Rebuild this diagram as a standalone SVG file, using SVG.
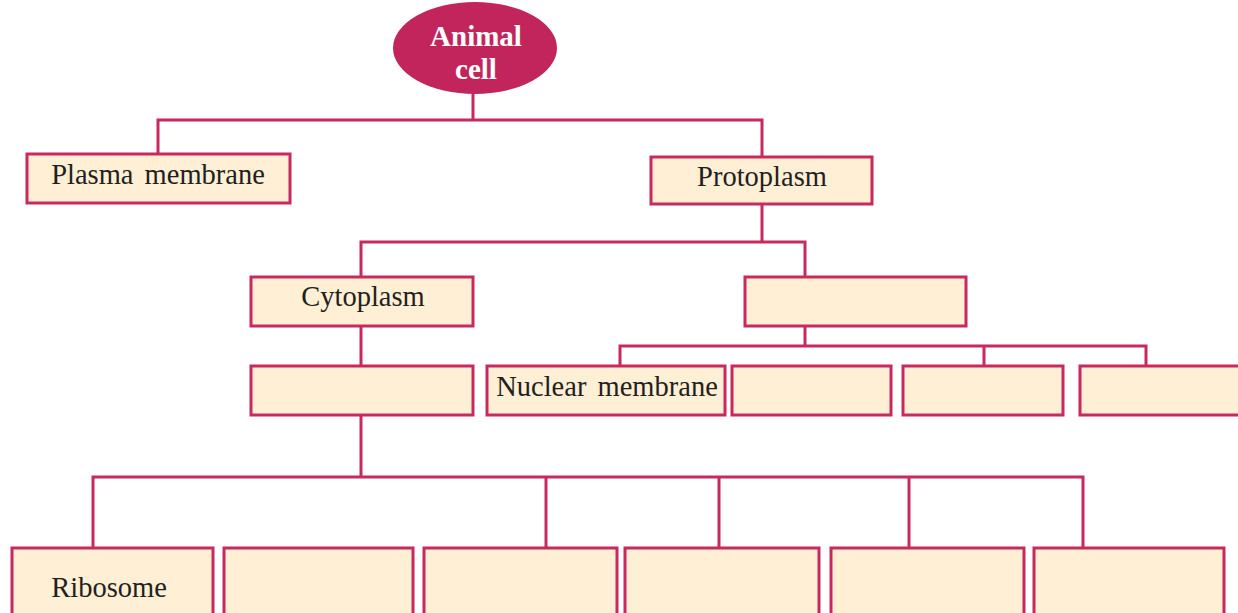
<svg xmlns="http://www.w3.org/2000/svg" width="1238" height="613" viewBox="0 0 1238 613">
<style>
.box{fill:#FEEFD5;stroke:#C8295F;stroke-width:3}
.ln{fill:none;stroke:#C8295F;stroke-width:3}
.t{font-family:"Liberation Serif","Times New Roman",serif;font-size:28.5px;fill:#231F20;text-anchor:middle;word-spacing:4px}
.tw{font-family:"Liberation Serif","Times New Roman",serif;font-size:29px;font-weight:bold;fill:#FFFFFF;text-anchor:middle}
</style>
<rect width="1238" height="613" fill="#FFFFFF"/>
<g id="connectors">
<path class="ln" d="M473 93V120M158 154V120H762V157"/>
<path class="ln" d="M762 204V242M361 277V242H805V277"/>
<path class="ln" d="M805 326V346M620 366V346H1146V366M984 346V366"/>
<path class="ln" d="M361 326V366M361 415V477M93 548V477H1083V548M546 477V548M719 477V548M909 477V548"/>
</g>
<g id="animal-cell">
<ellipse cx="475" cy="48" rx="82" ry="46" fill="#C2255C"/>
<text class="tw" x="476" y="46">Animal</text>
<text class="tw" x="476" y="79">cell</text>
</g>
<g id="plasma-membrane">
<rect class="box" x="27" y="154" width="263" height="49"/>
<text class="t" x="158" y="184">Plasma membrane</text>
</g>
<g id="protoplasm">
<rect class="box" x="651" y="157" width="221" height="47"/>
<text class="t" x="762" y="186">Protoplasm</text>
</g>
<g id="cytoplasm">
<rect class="box" x="251" y="277" width="222" height="49"/>
<text class="t" x="363" y="306">Cytoplasm</text>
</g>
<g id="nucleus">
<rect class="box" x="745" y="277" width="221" height="49"/>
</g>
<g id="cyto-sub">
<rect class="box" x="251" y="366" width="222" height="49"/>
</g>
<g id="nuclear-membrane">
<rect class="box" x="487" y="366" width="238" height="49"/>
<text class="t" x="607" y="396">Nuclear membrane</text>
</g>
<g id="nuc-2">
<rect class="box" x="732" y="366" width="159" height="49"/>
</g>
<g id="nuc-3">
<rect class="box" x="903" y="366" width="160" height="49"/>
</g>
<g id="nuc-4">
<rect class="box" x="1080" y="366" width="160" height="49"/>
</g>
<g id="ribosome">
<rect class="box" x="12" y="548" width="201" height="70"/>
<text class="t" x="109" y="597">Ribosome</text>
</g>
<g id="org-2">
<rect class="box" x="224" y="548" width="189" height="70"/>
</g>
<g id="org-3">
<rect class="box" x="424" y="548" width="193" height="70"/>
</g>
<g id="org-4">
<rect class="box" x="625" y="548" width="194" height="70"/>
</g>
<g id="org-5">
<rect class="box" x="831" y="548" width="193" height="70"/>
</g>
<g id="org-6">
<rect class="box" x="1034" y="548" width="190" height="70"/>
</g>
</svg>
